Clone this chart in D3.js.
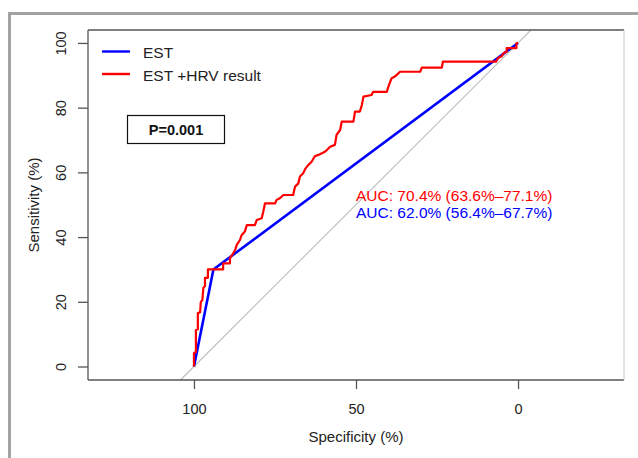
<!DOCTYPE html>
<html>
<head>
<meta charset="utf-8">
<script src="https://cdn.jsdelivr.net/npm/d3@7/dist/d3.min.js"></script>
<style>
  html, body { margin: 0; padding: 0; background: #fff; }
  svg { display: block; font-family: "Liberation Sans", Arial, sans-serif; }
</style>
</head>
<body>
<svg id="chart" width="638" height="458"></svg>
<script>
// ---- data (specificity %, sensitivity %) ----
const estSpec = [100, 94.0, 0];
const estSens = [0, 30.0, 100];

const hrvSpec = [100, 100, 99.4, 99.4, 98.8, 98.8, 98.1, 97.9, 97.4, 97.1, 96.6, 96.6, 95.7, 95.7, 91.0, 91.0, 88.9, 88.9,
  87.9, 87.3, 86.8, 85.8, 85.3, 84.3, 83.7, 81.2, 80.6, 79.1, 78.6, 78.1, 75.0, 74.5, 73.5, 72.4, 69.4, 68.8, 67.8, 67.3,
  66.3, 65.7, 64.7, 63.7, 62.7, 61.6, 59.6, 59.0, 58.0, 56.5, 56.0, 54.9, 54.4, 50.8, 50.3, 48.8, 48.2, 47.7, 45.2, 44.7,
  40.5, 40.0, 39.0, 38.0, 36.4, 30.2, 29.7, 23.5, 23.2, 6.8, 6.1, 5.0, 4.5, 3.5, 3.5, 0.5, 0.5, 0];
const hrvSens = [0, 4.2, 4.5, 11.3, 11.5, 16.5, 16.8, 19.9, 20.6, 24.3, 24.9, 27.4, 27.4, 30.0, 30.0, 31.9, 31.9, 33.4,
  35.0, 36.0, 37.6, 39.1, 40.6, 41.7, 43.7, 43.7, 45.3, 45.8, 47.9, 50.4, 50.4, 51.5, 52.0, 53.0, 53.0, 55.6, 56.6, 58.7,
  59.7, 61.0, 62.3, 63.3, 65.0, 65.4, 66.4, 66.9, 67.9, 68.5, 71.6, 73.1, 75.7, 75.7, 78.8, 78.8, 80.8, 83.4, 83.9, 84.9,
  84.9, 86.5, 89.1, 89.6, 91.1, 91.1, 92.4, 92.4, 94.2, 94.2, 95.4, 95.9, 96.8, 97.3, 98.4, 98.4, 99.9, 100];

const xTicks = [100, 50, 0];
const yTicks = [0, 20, 40, 60, 80, 100];
const seriesNames = ["EST", "EST +HRV result"];
const seriesColors = ["#0000ff", "#ff0000"];
const aucLabels = ["AUC: 70.4% (63.6%\u201377.1%)", "AUC: 62.0% (56.4%\u201367.7%)"];
const aucColors = ["#ff0000", "#0000ff"];
const pLabel = "P=0.001";

// ---- layout ----
const svg = d3.select("#chart");
const L = 88, R = 624, T = 30, B = 380;
const x = d3.scaleLinear().domain([132.7, -32.7]).range([L, R]);
const y = d3.scaleLinear().domain([-4.17, 104]).range([B, T]);

// outer grey frame (partial)
svg.append("rect").attr("x", 8).attr("y", 12).attr("width", 630).attr("height", 3).attr("fill", "#a3a3a3");
svg.append("rect").attr("x", 8).attr("y", 12).attr("width", 3).attr("height", 446).attr("fill", "#a3a3a3");

// diagonal reference
const yd = y.domain();
svg.append("line")
  .attr("x1", x(100 - yd[0])).attr("y1", y(yd[0]))
  .attr("x2", x(100 - yd[1])).attr("y2", y(yd[1]))
  .attr("stroke", "#bdbdbd").attr("stroke-width", 1.1);

// curves
const line = d3.line().x(d => x(d[0])).y(d => y(d[1]));
const estPts = estSpec.map((s, i) => [s, estSens[i]]);
const hrvPts = hrvSpec.map((s, i) => [s, hrvSens[i]]);
svg.append("path").attr("d", line(estPts)).attr("fill", "none")
  .attr("stroke", seriesColors[0]).attr("stroke-width", 2.6).attr("stroke-linejoin", "round");
svg.append("path").attr("d", line(hrvPts)).attr("fill", "none")
  .attr("stroke", seriesColors[1]).attr("stroke-width", 2.2).attr("stroke-linejoin", "round");

// plot box
svg.append("line").attr("x1", L).attr("x2", R).attr("y1", T).attr("y2", T).attr("stroke", "#555").attr("stroke-width", 1.3);
svg.append("line").attr("x1", L).attr("x2", L).attr("y1", T).attr("y2", B).attr("stroke", "#555").attr("stroke-width", 1.3);
svg.append("line").attr("x1", L).attr("x2", R).attr("y1", B).attr("y2", B).attr("stroke", "#555").attr("stroke-width", 1.3);
svg.append("line").attr("x1", R).attr("x2", R).attr("y1", T).attr("y2", B).attr("stroke", "#c8c8c8").attr("stroke-width", 1);

// axes
const xAxis = svg.append("g").attr("transform", `translate(0,${B})`)
  .call(d3.axisBottom(x).tickValues(xTicks).tickSize(9).tickFormat(d3.format("d")));
xAxis.select(".domain").remove();
xAxis.selectAll(".tick line").attr("stroke", "#555").attr("stroke-width", 1.3);
xAxis.selectAll(".tick text").attr("y", 34).attr("dy", 0)
  .attr("font-size", 14.5).attr("fill", "#222").attr("font-family", "Liberation Sans, Arial, sans-serif");

const yAxis = svg.append("g").attr("transform", `translate(${L},0)`)
  .call(d3.axisLeft(y).tickValues(yTicks).tickSize(10).tickFormat(d3.format("d")));
yAxis.select(".domain").remove();
yAxis.selectAll(".tick line").attr("stroke", "#555").attr("stroke-width", 1.3);
yAxis.selectAll(".tick text")
  .attr("transform", "rotate(-90)").attr("x", 0).attr("y", -22).attr("dy", 0)
  .attr("text-anchor", "middle").attr("font-size", 14.5).attr("fill", "#222")
  .attr("font-family", "Liberation Sans, Arial, sans-serif");

// axis titles
svg.append("text").attr("x", (L + R) / 2).attr("y", 442).attr("text-anchor", "middle")
  .attr("font-size", 15).attr("fill", "#222").text("Specificity (%)");
svg.append("text").attr("transform", `translate(38.5,${(T + B) / 2}) rotate(-90)`).attr("text-anchor", "middle")
  .attr("font-size", 15).attr("fill", "#222").text("Sensitivity (%)");

// legend
const leg = svg.append("g");
seriesNames.forEach((name, i) => {
  const ly = 51.5 + i * 22.5;
  leg.append("line").attr("x1", 102).attr("x2", 130).attr("y1", ly).attr("y2", ly)
    .attr("stroke", seriesColors[i]).attr("stroke-width", 2.4);
  leg.append("text").attr("x", 143).attr("y", ly + 6.5).attr("font-size", 15.5).attr("fill", "#222").text(name);
});

// p-value box
svg.append("rect").attr("x", 127.5).attr("y", 115.5).attr("width", 97).attr("height", 28)
  .attr("fill", "#fff").attr("stroke", "#111").attr("stroke-width", 1.2);
svg.append("text").attr("x", 176).attr("y", 135).attr("text-anchor", "middle")
  .attr("font-size", 14.5).attr("font-weight", "bold").attr("fill", "#111").text(pLabel);

// AUC labels
aucLabels.forEach((t, i) => {
  svg.append("text").attr("x", 356).attr("y", 200.5 + i * 17).attr("font-size", 15.5)
    .attr("fill", aucColors[i]).text(t);
});
</script>
</body>
</html>
